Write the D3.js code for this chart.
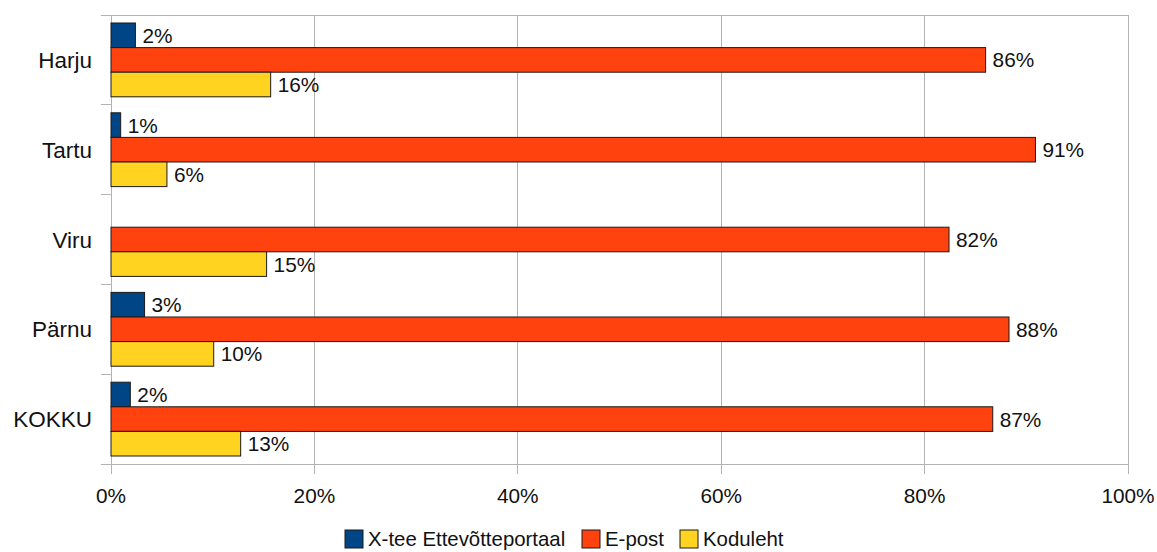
<!DOCTYPE html>
<html><head><meta charset="utf-8">
<script src="https://cdn.jsdelivr.net/npm/d3@7"></script>
<style>body{margin:0;background:#fff}svg{display:block;font-family:"Liberation Sans",Arial,sans-serif}</style>
</head><body><svg id="c" width="1157" height="552"></svg>
<script>
const categories = ["Harju","Tartu","Viru","Pärnu","KOKKU"];
const seriesNames = ["X-tee Ettevõtteportaal","E-post","Koduleht"];
const xtee = [2.4, 0.95, 0, 3.3, 1.9];
const epost = [86.0, 90.9, 82.4, 88.3, 86.7];
const koduleht = [15.7, 5.5, 15.3, 10.1, 12.75];
const xTicks = [0,20,40,60,80,100];
const colors = ["#004586","#ff420e","#ffd320"];

const svg = d3.select("#c");
const L = 111, R = 1128, T = 15, B = 464;
const x = d3.scaleLinear().domain([0,100]).range([L,R]);
const y = d3.scaleBand().domain(categories).range([T,B]);
const inner = d3.scaleBand().domain(seriesNames).range([0,y.bandwidth()]).paddingOuter(0.325).paddingInner(0);
const gridC = "#b3b3b3";

// gridlines
svg.append("g").selectAll("line").data(xTicks).join("line")
  .attr("x1",d=>x(d)).attr("x2",d=>x(d)).attr("y1",T).attr("y2",B+10)
  .attr("stroke",gridC).attr("stroke-width",1).attr("shape-rendering","crispEdges");
// top border
svg.append("line").attr("x1",L).attr("x2",R).attr("y1",T).attr("y2",T).attr("stroke",gridC).attr("shape-rendering","crispEdges");
// left axis
svg.append("line").attr("x1",L).attr("x2",L).attr("y1",T).attr("y2",B).attr("stroke",gridC).attr("shape-rendering","crispEdges");
const sepY = d3.range(categories.length+1).map(i=>T+i*y.step());
svg.append("g").selectAll("line").data(sepY).join("line")
  .attr("x1",L-10).attr("x2",L).attr("y1",d=>d).attr("y2",d=>d)
  .attr("stroke",gridC).attr("shape-rendering","crispEdges");
// bottom axis
svg.append("line").attr("x1",L-10).attr("x2",R).attr("y1",B).attr("y2",B).attr("stroke",gridC).attr("shape-rendering","crispEdges");

const data = categories.map((c,i)=>({c, vals:[xtee[i],epost[i],koduleht[i]]}));
const g = svg.append("g").selectAll("g").data(data).join("g")
  .attr("transform",d=>`translate(0,${y(d.c)})`);
g.selectAll("rect").data(d=>d.vals.map((v,j)=>({v,j})).filter(e=>e.v>0)).join("rect")
  .attr("x",x(0)).attr("y",e=>inner(seriesNames[e.j]))
  .attr("width",e=>x(e.v)-x(0)).attr("height",inner.bandwidth())
  .attr("fill",e=>colors[e.j]).attr("stroke","#1a1a1a").attr("stroke-width",1);
g.selectAll("text").data(d=>d.vals.map((v,j)=>({v,j})).filter(e=>e.v>0)).join("text")
  .attr("x",e=>x(e.v)+7).attr("y",e=>inner(seriesNames[e.j])+inner.bandwidth()/2)
  .attr("dy","0.36em").attr("font-size",20.8).attr("fill","#111")
  .text(e=>Math.round(e.v)+"%");

// category labels
svg.append("g").selectAll("text").data(categories).join("text")
  .attr("x",92).attr("y",d=>y(d)+y.bandwidth()/2).attr("dy","0.36em")
  .attr("text-anchor","end").attr("font-size",22.5).attr("fill","#111").text(d=>d);

// x labels
svg.append("g").selectAll("text").data(xTicks).join("text")
  .attr("x",d=>x(d)).attr("y",495.5).attr("dy","0.36em").attr("text-anchor","middle")
  .attr("font-size",20.8).attr("fill","#111").text(d=>d+"%");

// legend
const legX = [345, 582, 680];
const lg = svg.append("g").selectAll("g").data(seriesNames).join("g")
  .attr("transform",(d,i)=>`translate(${legX[i]},530)`);
lg.append("rect").attr("width",18).attr("height",18).attr("fill",(d,i)=>colors[i]).attr("stroke","#1a1a1a");
lg.append("text").attr("x",23).attr("y",9).attr("dy","0.36em").attr("font-size",20.4).attr("fill","#111").text(d=>d);
</script></body></html>
